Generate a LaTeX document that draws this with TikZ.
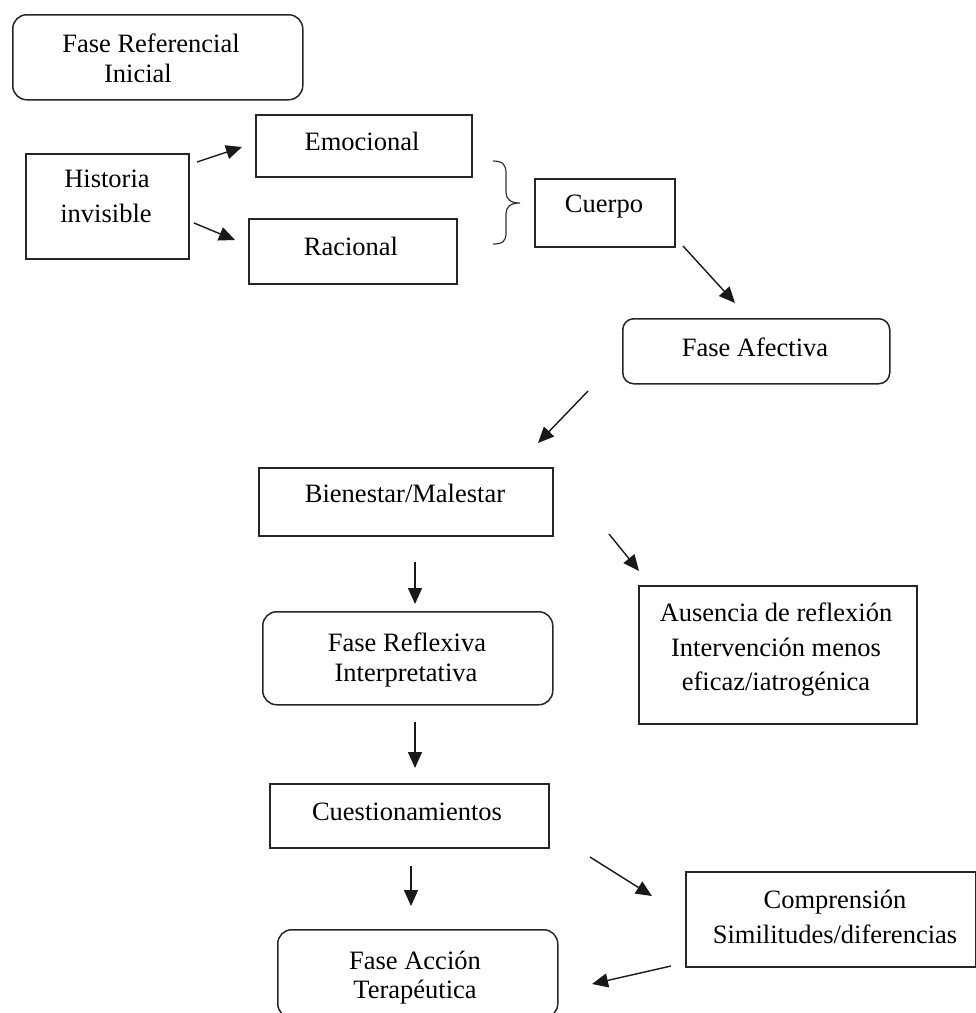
\documentclass[tikz,border=0pt]{standalone}
\usepackage{fontspec}
\setmainfont{Liberation Serif}
\usetikzlibrary{arrows.meta}
\begin{document}
\begin{tikzpicture}[x=1pt,y=-1pt,
  box/.style={draw=black!85, line width=1.5pt, rectangle, inner sep=0pt, anchor=north west},
  rbox/.style={box, rounded corners=14pt},
  txt/.style={anchor=base, inner sep=0pt, font=\fontsize{26.5}{31}\selectfont},
  arr/.style={draw=black!90, line width=1.4pt, -{Triangle[length=16pt,width=14pt]}}]
\useasboundingbox (0,0) rectangle (976,1013);
\fill[white] (0,0) rectangle (976,1013);

% boxes
\node[rbox, minimum width=290pt, minimum height=85pt] (ref) at (12,14) {};
\node[box, minimum width=163pt, minimum height=105pt] (hist) at (25,153) {};
\node[box, minimum width=216pt, minimum height=62pt] (emo) at (255,114) {};
\node[box, minimum width=208pt, minimum height=65pt] (rac) at (248,218) {};
\node[box, minimum width=140pt, minimum height=68pt] (cuer) at (534,178) {};
\node[rbox, rounded corners=11pt, minimum width=267pt, minimum height=65pt] (afec) at (622,318) {};
\node[box, minimum width=294pt, minimum height=68pt] (bien) at (258,467) {};
\node[rbox, minimum width=290pt, minimum height=93pt] (refl) at (262,611) {};
\node[box, minimum width=278pt, minimum height=138pt] (aus) at (638,585) {};
\node[box, minimum width=279pt, minimum height=64pt] (cues) at (269,783) {};
\node[rbox, minimum width=280pt, minimum height=88pt] (acc) at (277,929) {};
\node[box, minimum width=290pt, minimum height=95pt] (comp) at (685,871) {};

% texts
\node[txt] (refA) at (151,52) {Fase Referencial};
\node[txt] (refB) at (138,82) {Inicial};
\node[txt] (histA) at (107,187) {Historia};
\node[txt] (histB) at (106,222) {invisible};
\node[txt] (emoT) at (362,150) {Emocional};
\node[txt] (racT) at (351,255) {Racional};
\node[txt] (cuerT) at (604,212) {Cuerpo};
\node[txt] (afecT) at (755,356) {Fase Afectiva};
\node[txt] (bienT) at (405,502) {Bienestar/Malestar};
\node[txt] (reflA) at (407,651) {Fase Reflexiva};
\node[txt] (reflB) at (406,681) {Interpretativa};
\node[txt] (ausA) at (776,621) {Ausencia de reflexión};
\node[txt] (ausB) at (776,656) {Intervención menos};
\node[txt] (ausC) at (776,690) {eficaz/iatrogénica};
\node[txt] (cuesT) at (407,820) {Cuestionamientos};
\node[txt] (accA) at (415,969) {Fase Acción};
\node[txt] (accB) at (415,998) {Terapéutica};
\node[txt] (compA) at (835,908) {Comprensión};
\node[txt] (compB) at (835,943) {Similitudes/diferencias};

% brace
\draw[black!80, line width=1.2pt]
  (493,161) .. controls (503,161) and (506,165) .. (506,173)
  -- (506,192) .. controls (506,199) and (510,203) .. (520,203)
  .. controls (510,203) and (506,207) .. (506,214)
  -- (506,233) .. controls (506,241) and (503,244) .. (493,244);

% connector end points
\coordinate (h1s) at (197,162); \coordinate (h1e) at (242,147);
\coordinate (h2s) at (194,223); \coordinate (h2e) at (235,240);
\coordinate (c1s) at (683,246); \coordinate (c1e) at (735,303);
\coordinate (f1s) at (588,391); \coordinate (f1e) at (538,443);
\coordinate (b1s) at (609,534); \coordinate (b1e) at (639,571);
\coordinate (b2s) at (415,562); \coordinate (b2e) at (415,604);
\coordinate (r1s) at (415,722); \coordinate (r1e) at (415,768);
\coordinate (q1s) at (411,866); \coordinate (q1e) at (411,906);
\coordinate (q2s) at (590,857); \coordinate (q2e) at (652,896);
\coordinate (p1s) at (671,966); \coordinate (p1e) at (592,984);

\draw[arr] (h1s) -- (h1e);
\draw[arr] (h2s) -- (h2e);
\draw[arr] (c1s) -- (c1e);
\draw[arr] (f1s) -- (f1e);
\draw[arr] (b1s) -- (b1e);
\draw[arr] (b2s) -- (b2e);
\draw[arr] (r1s) -- (r1e);
\draw[arr] (q1s) -- (q1e);
\draw[arr] (q2s) -- (q2e);
\draw[arr] (p1s) -- (p1e);
\end{tikzpicture}
\end{document}
